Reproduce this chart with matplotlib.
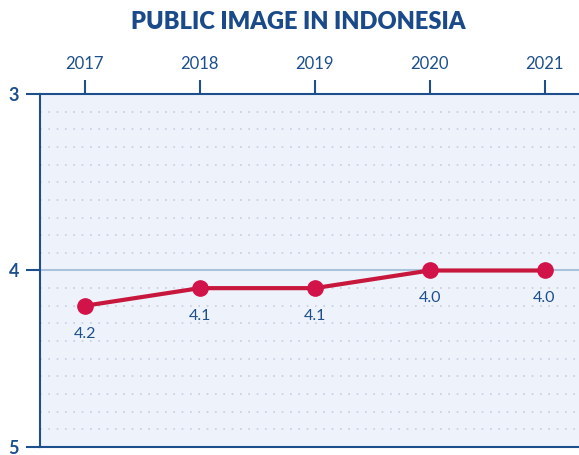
import numpy as np
import matplotlib.pyplot as plt

years = [2017, 2018, 2019, 2020, 2021]
scores = [4.2, 4.1, 4.1, 4.0, 4.0]
labels = ['4.2', '4.1', '4.1', '4.0', '4.0']
yticks = [3, 4, 5]

navy = '#1d4f8c'
red = '#c8173c'

plt.rcParams['font.family'] = ['Lato', 'DejaVu Sans']

fig = plt.figure(figsize=(5.79, 4.55), dpi=100)
ax = fig.add_axes([40/579, 8/455, 1 - 40/579, 353/455])
ax.set_facecolor('#eef3fb')

ax.plot(years, scores, '-', c=red, lw=3, marker='o', markersize=11,
        markerfacecolor='#d2134a', markeredgecolor='#d2134a', zorder=4)
for x, y, t in zip(years, scores, labels):
    ax.annotate(t, (x, y), xytext=(0, -20), textcoords='offset points',
                ha='center', va='center', fontsize=11.5, color=navy)

ax.set_xlim(2016.61, 2021.30)
ax.set_ylim(5, 3)
ax.set_xticks(years)
ax.set_yticks(yticks)
ax.set_yticks(np.arange(3, 5.01, 0.1), minor=True)
ax.grid(axis='y', which='minor', color='#c3cedf', ls=(0, (1, 4)), lw=1.2)
ax.axhline(4, color='#a9c3dc', lw=1.5, zorder=1)

ax.xaxis.tick_top()
ax.tick_params(axis='x', which='major', length=10, width=1.5, color=navy,
               labelcolor=navy, labelsize=12, pad=6)
ax.tick_params(axis='y', which='major', length=10, width=1.5, color=navy,
               labelcolor=navy, labelsize=13, pad=5)
ax.tick_params(axis='y', which='minor', length=0)
for lab in ax.get_yticklabels():
    lab.set_fontweight('bold')

for s in ['top', 'bottom', 'left']:
    ax.spines[s].set_color(navy)
    ax.spines[s].set_linewidth(1.5)
ax.spines['right'].set_visible(False)

fig.text(0.515, 0.952, 'PUBLIC IMAGE IN INDONESIA', ha='center', va='center',
         fontsize=17, fontweight='heavy', color='#1b4a8a')

fig.savefig('out.png', dpi=100)
